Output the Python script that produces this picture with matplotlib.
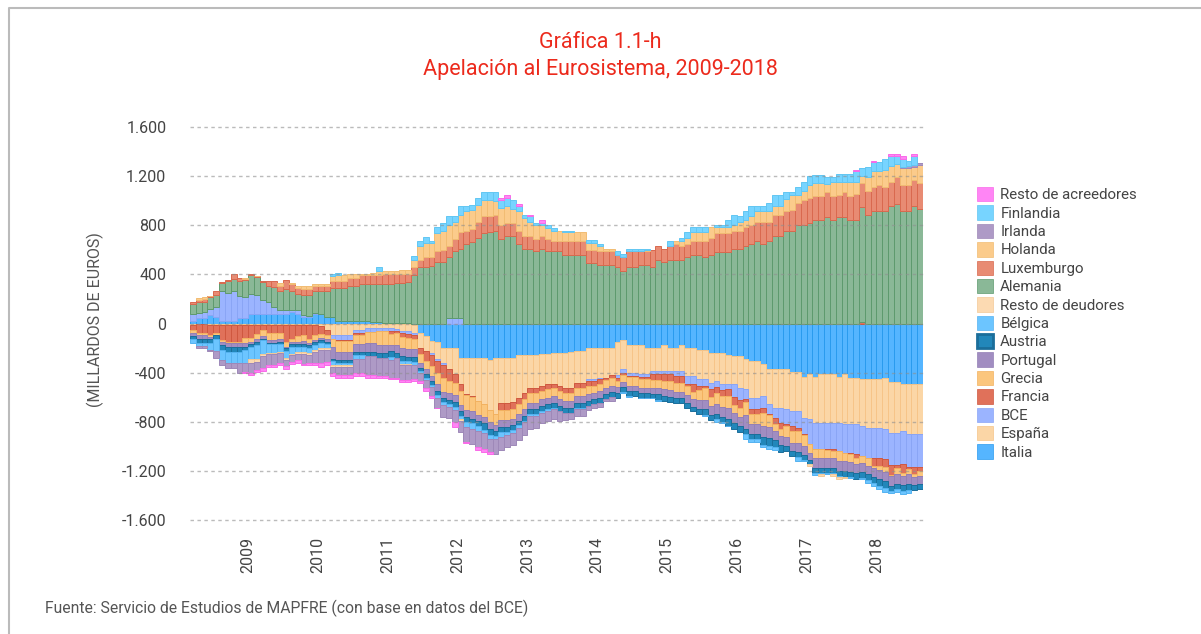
import matplotlib
matplotlib.use("Agg")
import matplotlib.pyplot as plt
import matplotlib.patches as mpatches
from matplotlib.lines import Line2D
from matplotlib.ticker import FuncFormatter
import numpy as np

plt.rcParams['font.family'] = ['Roboto', 'DejaVu Sans']

# Monthly balances (billions of euros), Mar 2008 - Aug 2018
# series in stacking order (first = closest to zero)
italia = [
    20, 45, 45, 70, 55, 20, 20, 20, 45, 45,
    75, 75, 75, 75, 75, 75, 80, 95, 75, 50,
    50, 75, 75, 50, 50, 20, 20, 20, 20, 20,
    20, 10, 10, 5, 5, 5, 5, 5, -15, -76,
    -103, -144, -152, -198, -198, -198, -279, -279, -279, -279,
    -279, -300, -279, -279, -279, -279, -260, -260, -260, -260,
    -245, -245, -238, -238, -238, -230, -225, -225, -198, -198,
    -198, -198, -198, -152, -138, -173, -173, -173, -198, -198,
    -198, -173, -198, -198, -173, -198, -198, -216, -216, -238,
    -238, -238, -260, -266, -266, -285, -306, -306, -328, -369,
    -369, -369, -369, -393, -393, -434, -415, -434, -415, -415,
    -415, -434, -415, -440, -440, -455, -455, -455, -450, -445,
    -477, -477, -496, -490, -496, -496,
]
espana = [
    -10, -8, -8, -10, -10, -12, -12, -12, -12, -12,
    -12, -15, -15, -12, -12, -12, -12, -15, -15, -15,
    -15, -15, -20, -54, -95, -95, -95, -95, -54, -54,
    -40, -40, -35, -35, -40, -43, -57, -62, -60, -122,
    -122, -100, -140, -120, -176, -217, -217, -293, -312, -353,
    -379, -407, -455, -371, -371, -361, -344, -303, -262, -262,
    -264, -251, -258, -271, -284, -292, -257, -257, -257, -257,
    -244, -244, -222, -268, -236, -228, -228, -242, -217, -190,
    -190, -215, -190, -190, -215, -230, -230, -239, -239, -244,
    -232, -258, -236, -230, -257, -252, -298, -298, -263, -289,
    -317, -317, -330, -320, -320, -333, -365, -374, -393, -393,
    -393, -374, -406, -381, -381, -380, -393, -393, -398, -417,
    -412, -412, -379, -412, -406, -406,
]
bce = [
    56, 44, 47, 45, 80, 248, 228, 248, 175, 170,
    169, 161, 120, 98, 60, 35, 30, 15, 31, 20,
    15, 10, 5, 5, -35, -40, -40, -40, -27, -27,
    -27, -27, -27, -27, -22, -14, -19, -27, -20, 0,
    0, -10, -14, -20, 45, 45, 45, 0, 0, 0,
    0, 0, 0, 0, 0, 0, 0, 0, 0, 0,
    0, 0, 0, 0, 0, 0, 0, 0, -10, -10,
    -10, 0, 0, -27, -27, -27, -27, -20, -20, -27,
    -27, -27, -27, -40, -40, -68, -68, -54, -54, -54,
    -46, -46, -40, -100, -100, -81, -95, -95, -95, -81,
    -81, -122, -122, -122, -135, -135, -203, -211, -211, -211,
    -211, -230, -230, -230, -244, -244, -244, -244, -244, -244,
    -266, -266, -266, -266, -266, -266,
]
francia = [
    -46, -73, -73, -87, -68, -122, -136, -136, -136, -108,
    -108, -68, -35, -68, -68, -68, -136, -108, -90, -81,
    -108, -81, -68, -40, 0, -5, -5, -5, -14, -14,
    0, 0, 0, 0, -22, -24, -33, -30, -30, -54,
    -81, -95, -95, -108, -95, -68, -54, -14, -10, 0,
    0, 0, 0, -54, -54, -54, -54, -54, -41, -41,
    -41, -41, -27, -41, -41, -41, -41, -41, -41, -41,
    -41, -20, -27, -20, -20, -10, -10, -20, -20, -41,
    -41, -54, -54, -60, -60, -10, -60, -35, -20, -60,
    -50, -50, -55, -65, -65, -20, -40, -40, -40, -10,
    -50, -50, -10, -40, -30, -5, 0, 0, 0, -10,
    -20, 0, 0, -15, -30, 15, -5, -68, -68, -60,
    -80, -20, -80, -20, -60, -30,
]
grecia = [
    -22, -14, -14, -14, -19, -14, -14, -14, -14, -41,
    -27, -41, -54, -54, -54, -50, -41, -27, -46, -49,
    -35, -40, -30, -35, -60, -90, -90, -90, -68, -68,
    -95, -95, -114, -114, -87, -95, -89, -85, -85, -68,
    -68, -80, -95, -108, -100, -100, -110, -120, -115, -110,
    -100, -95, -90, -81, -81, -81, -81, -81, -81, -81,
    -68, -68, -68, -68, -68, -68, -68, -68, -68, -60,
    -60, -60, -60, -54, -54, -68, -68, -68, -68, -68,
    -68, -68, -73, -68, -68, -80, -60, -80, -90, -75,
    -90, -90, -95, -70, -70, -110, -80, -80, -110, -95,
    -55, -55, -95, -95, -95, -90, -75, -80, -80, -70,
    -60, -80, -70, -60, -50, -60, -60, -20, -30, -40,
    -10, -50, -20, -40, -20, -40,
]
portugal = [
    -22, -35, -35, -14, 0, -27, -27, -27, -27, -27,
    -19, -27, -20, -22, -22, -20, -10, -14, -19, -19,
    -14, -14, -14, -20, -95, -68, -68, -68, -68, -68,
    -68, -68, -62, -62, -54, -62, -68, -65, -65, -41,
    -41, -41, -54, -54, -54, -54, -54, -58, -58, -54,
    -54, -54, -50, -54, -54, -54, -54, -58, -54, -54,
    -54, -50, -54, -54, -58, -54, -54, -54, -54, -50,
    -54, -54, -54, -41, -41, -41, -41, -41, -41, -54,
    -54, -54, -54, -54, -54, -60, -60, -70, -80, -70,
    -80, -80, -95, -80, -80, -110, -80, -80, -90, -90,
    -80, -80, -75, -70, -70, -70, -55, -80, -80, -80,
    -80, -80, -80, -80, -75, -70, -70, -70, -75, -80,
    -75, -80, -75, -80, -70, -70,
]
austria = [
    -27, -27, -27, -33, -30, -41, -41, -41, -41, -27,
    -27, -27, -14, -11, -11, -15, -27, -27, -22, -27,
    -27, -27, -27, -20, -19, -27, -27, -27, -27, -27,
    -35, -35, -40, -40, -49, -46, -41, -40, -40, -27,
    -27, -30, -35, -35, -35, -40, -40, -40, -40, -41,
    -54, -54, -41, -41, -41, -35, -35, -35, -41, -41,
    -41, -41, -41, -41, -41, -41, -41, -41, -41, -41,
    -41, -41, -41, -41, -41, -41, -41, -41, -41, -27,
    -41, -40, -40, -40, -40, -40, -40, -45, -50, -45,
    -45, -40, -50, -45, -45, -45, -41, -41, -60, -60,
    -55, -55, -40, -40, -45, -45, -30, -40, -40, -40,
    -40, -40, -45, -45, -45, -50, -50, -50, -55, -55,
    -40, -45, -45, -50, -40, -40,
]
belgica = [
    -33, -27, -27, -54, -100, -81, -95, -95, -95, -108,
    -98, -108, -108, -70, -70, -65, -54, -54, -41, -41,
    -41, -41, -41, -30, -35, -14, -14, -14, -27, -27,
    0, 0, 0, 0, -27, 0, -22, -20, -20, -14,
    -14, -14, -20, -20, -20, -27, -27, -41, -41, -35,
    -27, -27, -27, -41, -27, -27, -20, -14, -14, -14,
    -14, -14, -14, 0, 0, 0, -14, -14, 0, 0,
    0, 0, 0, 0, -10, -10, 0, -5, -5, -5,
    -10, 0, 0, 0, 0, 0, 0, 0, -5, 0,
    -20, -5, -5, 0, 0, -40, -27, -27, -20, -30,
    -20, 0, 0, 0, -30, -5, 0, -15, -10, -10,
    -10, -10, 0, -10, 0, -10, -20, -20, -30, -30,
    -20, -20, -30, -20, 0, 0,
]
resto_deudores = [
    0, 0, 0, 0, 0, 0, 0, 0, 0, 0,
    -32, -27, -19, -11, -11, -11, -14, -14, -19, -14,
    -14, -14, -14, -14, -14, -19, -19, -19, 0, 0,
    0, 0, 0, 0, 0, 0, -5, -5, -5, 0,
    0, 0, 0, 0, 0, 0, -10, 0, 0, 0,
    0, 0, 0, 0, 0, 0, 0, 0, 0, 0,
    0, 0, 0, 0, 0, 0, 0, 0, 0, 0,
    0, 0, 0, 0, 0, 0, 0, 0, 0, 0,
    0, 0, 0, 0, 0, 0, 0, 0, 0, 0,
    0, 0, 0, 0, 0, 0, 0, 0, 0, 0,
    0, 0, 0, 0, 0, 0, -20, 0, -10, 0,
    -15, -15, -10, 0, 0, 0, 0, 0, 0, 0,
    0, 0, 0, 0, 0, 0,
]
alemania = [
    79, 86, 86, 99, 101, 62, 96, 98, 130, 137,
    149, 139, 140, 132, 165, 155, 172, 155, 134, 166,
    171, 178, 183, 208, 235, 270, 270, 283, 283, 305,
    305, 315, 315, 320, 320, 325, 325, 330, 393, 458,
    458, 470, 499, 499, 497, 543, 562, 650, 660, 696,
    737, 743, 756, 691, 715, 715, 650, 607, 607, 588,
    607, 588, 588, 588, 561, 561, 561, 561, 493, 493,
    480, 480, 480, 461, 431, 461, 461, 480, 480, 461,
    520, 499, 520, 520, 520, 539, 561, 561, 539, 561,
    583, 583, 583, 607, 607, 629, 650, 669, 650, 675,
    715, 715, 756, 756, 800, 800, 818, 846, 846, 865,
    846, 865, 865, 846, 846, 935, 886, 913, 913, 913,
    954, 976, 913, 913, 954, 935,
]
luxemburgo = [
    23, 20, 22, 8, 29, 5, 10, 40, 21, 12,
    10, 8, 10, 40, 42, 40, 70, 60, 45, 46,
    46, 40, 40, 40, 60, 60, 60, 68, 68, 68,
    68, 68, 68, 80, 80, 76, 76, 72, 65, 62,
    81, 69, 89, 103, 87, 103, 136, 106, 110, 128,
    136, 130, 130, 109, 103, 103, 106, 108, 108, 103,
    108, 103, 81, 81, 108, 108, 108, 108, 109, 109,
    108, 108, 108, 100, 108, 127, 127, 108, 108, 141,
    109, 108, 109, 128, 115, 109, 108, 108, 136, 135,
    154, 154, 154, 149, 149, 154, 150, 158, 177, 152,
    171, 171, 157, 171, 181, 203, 204, 195, 195, 203,
    195, 180, 203, 195, 208, 195, 195, 195, 212, 195,
    195, 214, 212, 212, 217, 207,
]
holanda = [
    0, 10, 14, 5, 0, 0, 0, 0, 0, 5,
    0, 5, 0, 0, 0, 25, 0, 5, 20, 21,
    21, 22, 22, 22, 43, 43, 45, 35, 35, 13,
    13, 15, 32, 25, 25, 25, 30, 30, 62, 109,
    118, 117, 149, 150, 176, 136, 143, 157, 155, 143,
    130, 130, 109, 140, 136, 117, 157, 144, 112, 114,
    85, 87, 87, 87, 74, 74, 74, 74, 54, 54,
    41, 19, 19, 0, 0, 0, 0, 0, 10, 0,
    0, 0, 0, 21, 34, 48, 74, 74, 68, 87,
    46, 46, 46, 49, 71, 63, 73, 86, 86, 86,
    68, 68, 103, 116, 62, 78, 103, 103, 103, 68,
    108, 104, 81, 108, 95, 60, 109, 130, 113, 144,
    130, 108, 141, 138, 103, 150,
]
irlanda = [
    0, -14, -14, -14, -54, -41, -41, -41, -81, -68,
    -81, -62, -95, -89, -89, -80, -54, -54, -49, -81,
    -70, -90, -110, -100, -54, -62, -62, -62, -122, -122,
    -155, -155, -149, -149, -140, -157, -130, -130, -115, -68,
    -68, -80, -81, -95, -95, -95, -95, -120, -130, -130,
    -130, -110, -120, -110, -100, -100, -100, -100, -110, -95,
    -81, -81, -81, -81, -55, -55, -54, -54, -35, -35,
    -29, -14, -29, 0, 0, 0, 0, 0, 0, 0,
    0, 0, 0, 0, 0, 0, 0, 0, 0, 0,
    0, 0, 0, 0, 0, 0, 0, 0, 0, 0,
    0, 0, 0, 0, 0, 0, 0, 0, 0, 0,
    0, 0, 0, 0, 0, 0, 0, 0, 0, 0,
    0, 0, 8, 22, 14, 14,
]
finlandia = [
    0, 0, 0, 0, 0, 0, 0, 0, 0, 0,
    0, 0, 0, 0, 0, 0, 0, 0, 0, 0,
    0, 0, 0, 0, 19, 19, 0, 0, 0, 0,
    0, 0, 33, 0, 0, 0, 0, 0, 27, 46,
    46, 19, 46, 66, 68, 46, 68, 41, 40, 55,
    65, 65, 73, 63, 68, 68, 41, 27, 46, 13,
    19, 27, 22, 0, 13, 13, 0, 0, 22, 22,
    21, 0, 0, 27, 27, 22, 22, 22, 12, 0,
    0, 0, 46, 0, 27, 47, 40, 40, 40, 0,
    22, 22, 63, 81, 46, 67, 81, 41, 41, 68,
    89, 89, 52, 25, 65, 68, 73, 67, 67, 54,
    41, 68, 68, 68, 89, 62, 81, 76, 76, 89,
    87, 65, 65, 35, 78, 0,
]
resto_acreedores = [
    0, 0, 0, 0, 0, 0, 0, 0, 0, -8,
    -19, -19, -27, -14, -14, -14, -19, -14, -22, -14,
    -14, -14, -30, -22, -19, -27, -27, -27, -22, -22,
    -27, -27, -14, -14, -14, -14, -11, -11, -12, -14,
    -27, -14, -5, 0, 0, -41, 0, -5, 0, -27,
    -27, -14, 0, 19, 21, 0, 22, 0, 14, 0,
    27, 0, 0, 0, 0, 0, 0, 0, 0, 0,
    0, 0, 0, 0, 0, 0, 0, 0, 0, 0,
    0, 0, 0, 0, 0, 0, 0, 0, 0, 0,
    0, 0, 0, 0, 0, 0, 0, 0, 0, 0,
    0, 0, 0, 0, 0, 0, 0, 0, 0, 0,
    0, 0, 0, 0, 14, 0, 0, 6, 0, 0,
    16, 16, 27, 0, 16, 0,
]

series_names = ['Italia', 'España', 'BCE', 'Francia', 'Grecia', 'Portugal',
                'Austria', 'Bélgica', 'Resto de deudores', 'Alemania',
                'Luxemburgo', 'Holanda', 'Irlanda', 'Finlandia',
                'Resto de acreedores']
series_values = [italia, espana, bce, francia, grecia, portugal, austria,
                 belgica, resto_deudores, alemania, luxemburgo, holanda,
                 irlanda, finlandia, resto_acreedores]
years = ['2009', '2010', '2011', '2012', '2013', '2014', '2015', '2016',
         '2017', '2018']

face = ['#55b5ff', '#fbd6a6', '#9bb4ff', '#e0715a', '#fbc67d', '#a18dc1',
        '#2287ba', '#6cc5ff', '#fcdab2', '#8ab897', '#e88b73', '#fbcb8b',
        '#ae9ac6', '#77d4ff', '#ff85f5']
edge = ['#2a9bee', '#f6c488', '#8aa5f5', '#cf5840', '#f2b260', '#9480b6',
        '#1b6e9a', '#55b2f0', '#f3c996', '#5e9a6e', '#d9694f', '#f1bc73',
        '#9e88b8', '#62c6f2', '#f96ae8']

for nm, v in zip(series_names, series_values):
    assert len(v) == 126, (nm, len(v))

n = len(italia)
x = np.arange(n)

fig = plt.figure(figsize=(12.01, 6.34), dpi=100)
ax = fig.add_axes([190 / 1201, 1 - 520 / 634, 733 / 1201, 393 / 634])

pos_base = np.zeros(n)
neg_base = np.zeros(n)
for nm, vals, fc, ec in zip(series_names, series_values, face, edge):
    v = np.array(vals, dtype=float)
    p = v > 0
    m = v < 0
    if p.any():
        ax.bar(x[p], v[p], bottom=pos_base[p], width=1.0, color=fc,
               edgecolor=ec, linewidth=0.7, zorder=1)
    if m.any():
        ax.bar(x[m], v[m], bottom=neg_base[m], width=1.0, color=fc,
               edgecolor=ec, linewidth=0.7, zorder=1)
    pos_base = pos_base + np.where(p, v, 0)
    neg_base = neg_base + np.where(m, v, 0)

ax.set_xlim(-0.5, n - 0.5)
ax.set_ylim(-1600, 1600)
ax.set_yticks(np.arange(-1600, 1601, 400))
ax.yaxis.set_major_formatter(FuncFormatter(
    lambda v, _: f'{int(v):,}'.replace(',', '.')))
ax.set_xticks(np.arange(9.5, n, 12)[:len(years)])
ax.set_xticklabels(years, rotation=90, va='top', ha='center')
ax.tick_params(axis='both', length=0, labelsize=11.5, colors='#444444')
ax.tick_params(axis='y', pad=17)
ax.tick_params(axis='x', pad=12)
for s in ax.spines.values():
    s.set_visible(False)
ax.set_axisbelow(False)
ax.grid(axis='y', color='#8f8f8f', linestyle=(0, (2.5, 2.5)),
        linewidth=1.0, alpha=0.6)
for gl in ax.get_ygridlines():
    gl.set_clip_on(False)

fig.text(95 / 1201, 1 - 320 / 634, '(MILLARDOS DE EUROS)', rotation=90,
         ha='center', va='center', fontsize=11.5, color='#555555')

title_red = '#ec2a1c'
fig.text(0.5, 1 - 43 / 634, 'Gráfica 1.1-h', ha='center', va='center',
         fontsize=15.5, color=title_red)
fig.text(0.5, 1 - 70 / 634, 'Apelación al Eurosistema, 2009-2018',
         ha='center', va='center', fontsize=15.5, color=title_red)

fig.text(45 / 1201, 1 - 608 / 634,
         'Fuente: Servicio de Estudios de MAPFRE (con base en datos del BCE)',
         ha='left', va='center', fontsize=11.3, color='#555555')

handles = [mpatches.Patch(facecolor=face[i], edgecolor=edge[i],
                          linewidth=2.0 if series_names[i] == 'Austria' else 0.5)
           for i in range(len(series_names))][::-1]
fig.legend(handles, series_names[::-1], loc='upper left',
           bbox_to_anchor=(977 / 1201, 1 - 187 / 634), frameon=False,
           fontsize=10.8, handlelength=1.05, handleheight=1.1,
           handletextpad=0.5, labelspacing=0.205, borderpad=0,
           borderaxespad=0, labelcolor='#444444')

# light grey frame around the chart
fig.add_artist(Line2D([9 / 1201, 9 / 1201, 1.0], [0.0, 1 - 8 / 634, 1 - 8 / 634],
                      transform=fig.transFigure, color='#bbbbbb', linewidth=1.5))

fig.savefig('out.png', dpi=100)
